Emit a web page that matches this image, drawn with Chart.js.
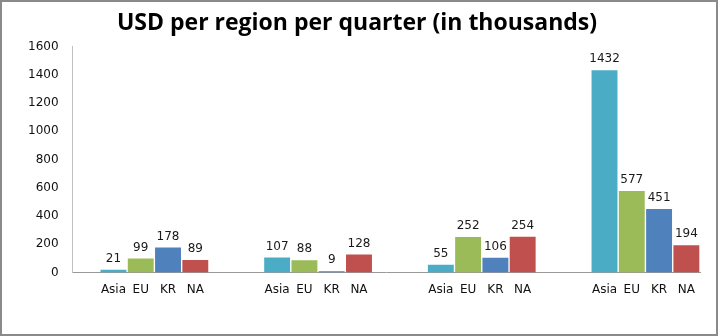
<!DOCTYPE html>
<html>
<head>
<meta charset="utf-8">
<script src="https://cdn.jsdelivr.net/npm/chart.js@4"></script>
<style>
  html, body { margin: 0; padding: 0; background: #fff; }
  #wrap { position: relative; width: 718px; height: 336px; }
  #frame {
    position: absolute; left: 0; top: 0; width: 718px; height: 336px;
    box-sizing: border-box; border: 2px solid #8a8a8a; pointer-events: none;
  }
</style>
</head>
<body>
<div id="wrap">
  <canvas id="chart" width="718" height="336"></canvas>
  <div id="frame"></div>
</div>
<script>
// regions shown under every bar
const regions = ["Asia", "EU", "KR", "NA"];

// USD per region, one array per quarter (thousands)
const quarter_1 = [21, 99, 178, 89];
const quarter_2 = [107, 88, 9, 128];
const quarter_3 = [55, 252, 106, 254];
const quarter_4 = [1432, 577, 451, 194];

// y axis ticks
const y_max = 1600;
const y_step = 200;

// one colour per region
const region_colors = ["#4bacc6", "#9bbb59", "#4f81bd", "#c0504d"];

// lay the quarters out as one run of categories, with empty slots between them
var labels = [""];
var values = [null];
var colors = ["#ffffff"];
const quarters = [quarter_1, quarter_2, quarter_3, quarter_4];
quarters.forEach(function (q, i) {
    if (i > 0) {
        labels.push("", "");
        values.push(null, null);
        colors.push("#ffffff", "#ffffff");
    }
    for (var r = 0; r < regions.length; r++) {
        labels.push(regions[r]);
        values.push(q[r]);
        colors.push(region_colors[r]);
    }
});

// write each value above its bar
const value_labels = {
    id: "value_labels",
    afterDatasetsDraw(chart) {
        const ctx = chart.ctx;
        const meta = chart.getDatasetMeta(0);
        ctx.save();
        ctx.font = "12px 'DejaVu Sans'";
        ctx.fillStyle = "#1a1a1a";
        ctx.textAlign = "center";
        ctx.textBaseline = "bottom";
        meta.data.forEach(function (bar, i) {
            const v = chart.data.datasets[0].data[i];
            if (v === null) return;
            ctx.fillText(String(v), bar.x, bar.y - 5);
        });
        ctx.restore();
    }
};

new Chart(document.getElementById("chart"), {
    type: "bar",
    data: {
        labels: labels,
        datasets: [{
            data: values,
            backgroundColor: colors,
            borderWidth: 0,
            categoryPercentage: 1.0,
            barPercentage: 0.95
        }]
    },
    options: {
        responsive: false,
        animation: false,
        layout: { padding: { left: 14, right: 18, top: 0, bottom: 29 } },
        plugins: {
            legend: { display: false },
            tooltip: { enabled: false },
            title: {
                display: true,
                text: "USD per region per quarter (in thousands)",
                color: "#000",
                font: { family: "'Open Sans'", size: 23, weight: "bold" },
                padding: { top: 10, bottom: 9 }
            }
        },
        scales: {
            x: {
                grid: { display: false, drawTicks: false },
                border: { display: true, color: "#999999", width: 1 },
                ticks: {
                    color: "#111",
                    font: { family: "'DejaVu Sans'", size: 12 },
                    padding: 10,
                    autoSkip: false,
                    maxRotation: 0
                }
            },
            y: {
                min: 0,
                max: y_max,
                grid: { display: false, drawTicks: false },
                border: { display: true, color: "#c0c0c0", width: 1 },
                ticks: {
                    stepSize: y_step,
                    color: "#111",
                    font: { family: "'DejaVu Sans'", size: 12 },
                    padding: 14,
                    callback: function (v) { return String(v); }
                }
            }
        }
    },
    plugins: [value_labels]
});
</script>
</body>
</html>
